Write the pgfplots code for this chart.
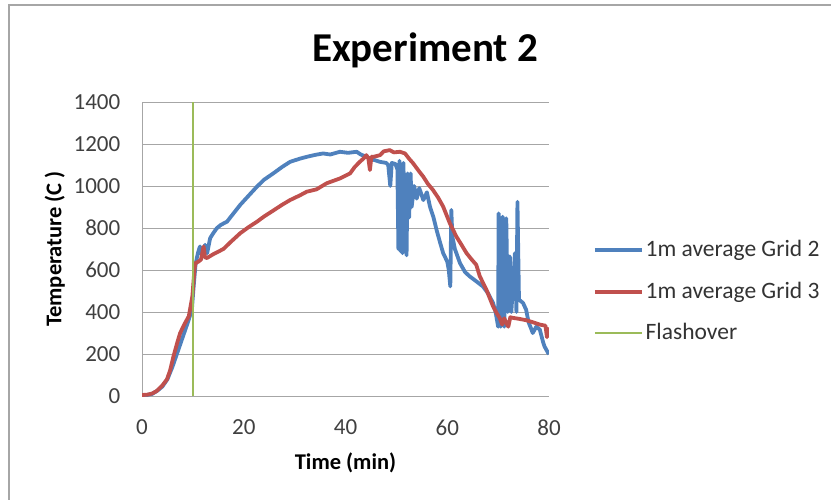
\documentclass[border=0pt]{standalone}
\usepackage{fontspec}
\setmainfont{Carlito}
\usepackage{pgfplots}
\pgfplotsset{compat=1.18}
\definecolor{exblue}{HTML}{4F81BD}
\definecolor{exred}{HTML}{C0504D}
\definecolor{exgreen}{HTML}{9BBB59}
\definecolor{exgrid}{HTML}{A6A6A6}

\begin{document}
\fontsize{22.5bp}{27bp}\selectfont
\begin{tikzpicture}
\path[use as bounding box] (0,0) rectangle (831bp,-500bp);
\draw[exgrid, line width=1.5bp] (9bp,-500bp) -- (9bp,-5bp) -- (831bp,-5bp);
\node[font=\bfseries\fontsize{41bp}{48bp}\selectfont] at (425bp,-50bp) {Experiment 2};
\begin{axis}[
  at={(142bp,-396bp)}, anchor=south west,
  width=407bp, height=294bp, scale only axis,
  xmin=0, xmax=80, ymin=0, ymax=1400,
  xtick={0,20,...,80}, ytick={0,200,...,1400},
  axis x line*=bottom, axis y line*=left,
  axis line style={exgrid, line width=1bp, -},
  ymajorgrids, grid style={exgrid, line width=1bp},
  tick style={draw=none},
  tick label style={font=\fontsize{23bp}{27bp}\selectfont, text=black!75},
  xticklabel style={yshift=-16bp},
  yticklabel style={xshift=-14bp},
  /pgf/number format/assume math mode=true,
  /pgf/number format/1000 sep={},
  xlabel={\bfseries Time (min)}, ylabel={\bfseries Temperature (C )},
  label style={font=\fontsize{22.5bp}{27bp}\selectfont},
  xlabel style={at={(axis description cs:0.5,-0.228)}, anchor=center},
  ylabel style={at={(axis description cs:-0.214,0.5)}, anchor=center},
  legend style={draw=none, fill=none, at={(axis description cs:1.10,0.355)}, anchor=west,
    font=\fontsize{23.5bp}{28bp}\selectfont, row sep=18bp, text=black!80},
  legend cell align=left,
  legend image code/.code={\draw[#1] (0bp,0bp) -- (47bp,0bp);},
]
% 1m average Grid 2
\addplot[exblue, line width=3.8bp, line join=round] coordinates {
(0,5)(1,5)(2,10)(3,25)(4,45)(5,80)(6,140)(7,210)(8,280)(9,350)(9.8,410)
(10.1,506)(10.5,620)(10.8,660)(11.1,690)(11.4,712)(11.8,670)(12.2,700)(12.4,720)
(12.8,680)(13.4,752)(14,775)(14.7,799)(15.5,815)(16.7,830)(18,870)(19.3,910)
(21,955)(22.6,997)(24,1030)(25.8,1060)(27.5,1090)(29.1,1115)(31,1130)(32.4,1139)
(34,1148)(35.6,1155)(37,1150)(38.9,1163)(40.5,1158)(42.2,1163)(43,1150)(44.1,1139)
(45.5,1125)(46.8,1115)(48,1110)(48.4,1100)(48.8,1000)(49.1,1110)(49.8,1105)
(50.2,1080)(50.4,700)(50.6,1120)(50.8,690)(51,1100)(51.2,680)(51.4,1110)(51.6,700)
(51.8,1050)(52,670)(52.2,1060)(52.5,850)(52.8,1060)(53,900)(53.5,1000)(54,940)
(54.5,990)(55.3,933)(56,970)(56.6,902)(57.3,850)(57.9,791)(58.6,730)(59.2,680)
(60,640)(60.3,600)(60.6,522)(60.8,886)(61,760)(61.5,700)(62.5,633)(63.5,590)
(64.4,570)(65.5,550)(67,522)(68,490)(69,443)(69.5,400)(70,330)(70.1,870)(70.5,330)
(70.9,854)(71.2,330)(71.6,846)(71.9,400)(72.3,665)(72.6,400)(73.3,680)(73.6,400)
(73.8,925)(74.1,459)(74.9,443)(75.5,411)(76,350)(76.5,320)(76.8,300)(77.5,330)
(78.2,316)(78.8,260)(79.1,237)(79.8,206)(80,200)
};
\addlegendentry{1m average Grid 2}
% 1m average Grid 3
\addplot[exred, line width=3.8bp, line join=round] coordinates {
(0,5)(1,6)(2,12)(2.9,24)(4,50)(4.9,79)(5.5,120)(6.2,190)(7,260)(7.5,300)(8.3,340)
(9.2,380)(9.9,475)(10.3,600)(10.5,633)(11.1,640)(11.6,650)(12.1,712)(12.4,660)
(12.75,657)(14,675)(16,700)(17.5,735)(19.3,775)(21,805)(22.6,830)(24,855)
(25.8,883)(27.5,910)(29.1,933)(31,955)(32.4,973)(34.3,984)(36.3,1013)(38.9,1036)
(40.9,1060)(41.8,1090)(42.8,1115)(43.5,1130)(44.1,1147)(44.5,1130)(44.8,1076)
(45.1,1140)(45.5,1139)(46.8,1147)(47.5,1165)(48.7,1171)(49.5,1160)(50.7,1163)
(51.7,1155)(52.5,1130)(53.3,1108)(54.3,1075)(55.3,1044)(56.2,1010)(57.2,981)
(58.2,945)(59.2,902)(60.5,823)(61.8,759)(62.8,720)(63.8,680)(64.8,650)(65.7,625)
(66.4,570)(67.7,506)(69,427)(69.7,395)(70.3,372)(70.8,340)(71.2,370)(71.6,348)
(72,330)(72.4,375)(72.9,372)(74,368)(75.5,361)(77,350)(78.2,340)(79.3,335)
(79.6,280)(79.8,320)(80,300)
};
\addlegendentry{1m average Grid 3}
% Flashover
\addplot[exgreen, line width=2bp] coordinates {(10,0)(10,1400)};
\addlegendentry{Flashover}
\end{axis}
\end{tikzpicture}
\end{document}
